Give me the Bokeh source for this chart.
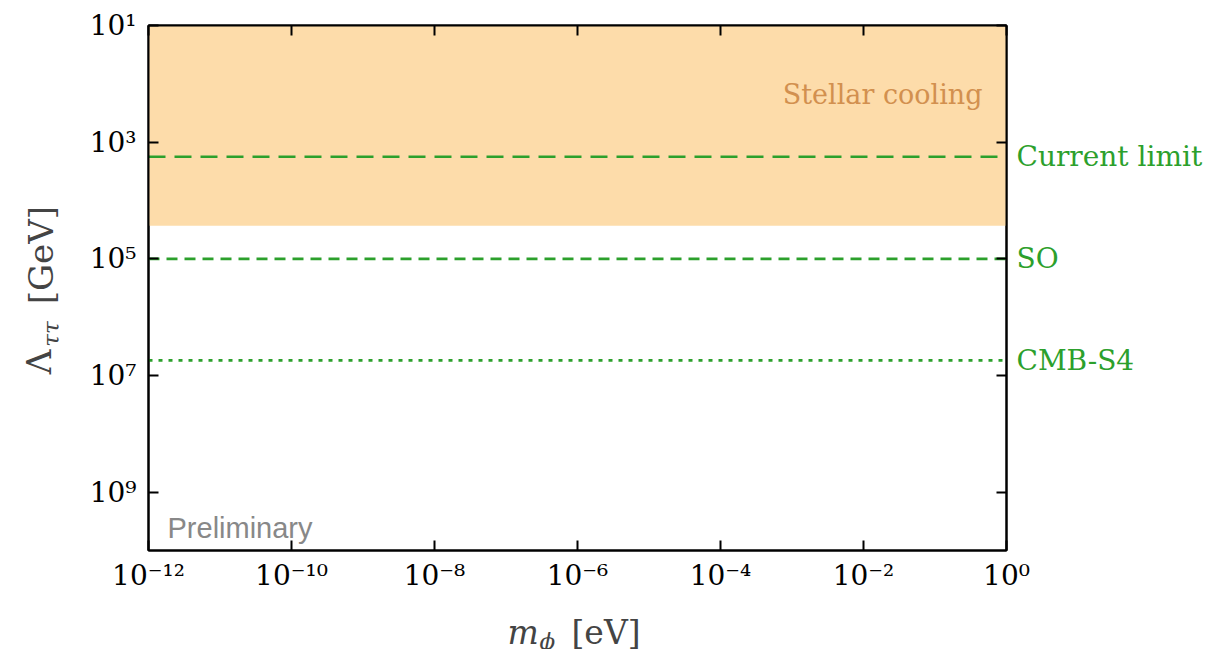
import math
from bokeh.plotting import figure
from bokeh.layouts import row, column
from bokeh.models import (Range1d, FixedTicker, LogAxis, Label, CustomJSTickFormatter)
from bokeh.embed import file_html
from bokeh.resources import INLINE

# ---------------- data ----------------
x_start, x_end = 1e-12, 1e0
y_top, y_bottom = 1e1, 1e10

x_ticks = [1e-12, 1e-10, 1e-8, 1e-6, 1e-4, 1e-2, 1e0]
x_tick_labels = ["10⁻¹²", "10⁻¹⁰", "10⁻⁸", "10⁻⁶", "10⁻⁴", "10⁻²", "10⁰"]
y_ticks = [1e1, 1e3, 1e5, 1e7, 1e9]
y_tick_labels = ["10¹", "10³", "10⁵", "10⁷", "10⁹"]

stellar_lower = 2.7e4          # stellar cooling excludes Lambda below this
stellar_text = "Stellar cooling"
stellar_text_y = 150.0

limit_names = ["Current limit", "SO", "CMB-S4"]
limit_values = [1.78e3, 1.0e5, 5.5e6]
limit_dashes = ["17 9", "11 7", "4 6"]

# ---------------- style ----------------
SERIF = "DejaVu Serif"
GREEN = "#2ca02c"
SHADE = "#fddcaa"
SHADE_TEXT = "#d2904f"

W, H = 1220, 649
LEFT_STRIP = 70      # strip that carries the y title
BOTTOM_STRIP = 50    # strip that carries the x title
MAIN_H = H - BOTTOM_STRIP

p = figure(width=W - LEFT_STRIP, height=MAIN_H,
           x_axis_type="log", y_axis_type="log",
           x_range=Range1d(x_start, x_end),
           y_range=Range1d(y_bottom, y_top),
           output_backend="svg", toolbar_location=None,
           min_border_left=148 - LEFT_STRIP, min_border_right=214,
           min_border_top=25, min_border_bottom=MAIN_H - 550)
p.background_fill_color = "white"
p.border_fill_color = "white"
p.grid.visible = False
p.outline_line_color = "black"
p.outline_line_width = 2

js_code = """
const lt = Math.log10(tick);
for (let i = 0; i < tvals.length; i++) {
  if (Math.abs(Math.log10(tvals[i]) - lt) < 1e-6) return ttext[i];
}
return "";
"""

def style_axis(ax, ticks, labels, tick_len=10):
    ax.ticker = FixedTicker(ticks=ticks)
    ax.formatter = CustomJSTickFormatter(args=dict(tvals=ticks, ttext=labels), code=js_code)
    ax.axis_line_color = "black"
    ax.axis_line_width = 2
    ax.major_tick_in = tick_len
    ax.major_tick_out = 0
    ax.major_tick_line_width = 2
    ax.major_tick_line_color = "black"
    ax.minor_tick_line_color = None
    ax.major_label_text_font = SERIF
    ax.major_label_text_font_size = "28px"
    ax.major_label_text_color = "black"
    ax.axis_label = None

style_axis(p.xaxis[0], x_ticks, x_tick_labels)
style_axis(p.yaxis[0], y_ticks, y_tick_labels)
p.xaxis[0].major_label_standoff = 8
p.yaxis[0].major_label_standoff = 12

top_ax = LogAxis()
style_axis(top_ax, x_ticks, [""] * len(x_ticks))
top_ax.major_label_text_font_size = "0px"
top_ax.major_label_standoff = 0
p.add_layout(top_ax, "above")
right_ax = LogAxis()
style_axis(right_ax, y_ticks, [""] * len(y_ticks))
right_ax.major_label_text_font_size = "0px"
right_ax.major_label_standoff = 0
p.add_layout(right_ax, "right")

# names of the sensitivity lines, written as labels of an extra right axis
name_ax = LogAxis()
style_axis(name_ax, limit_values, limit_names, tick_len=0)
name_ax.axis_line_color = None
name_ax.major_tick_line_color = None
name_ax.major_label_text_color = GREEN
name_ax.major_label_standoff = 10
p.add_layout(name_ax, "right")

# stellar cooling band
p.quad(left=[x_start], right=[x_end], top=[y_top], bottom=[stellar_lower],
       fill_color=SHADE, line_color=None)
p.add_layout(Label(x=x_end, y=stellar_text_y, x_offset=-24, text=stellar_text,
                   text_align="right", text_baseline="middle",
                   text_font=SERIF, text_font_size="27px", text_color=SHADE_TEXT))

# sensitivity lines
for val, dash in zip(limit_values, limit_dashes):
    p.line(x=[x_start, x_end], y=[val, val], line_color=GREEN, line_width=2.6,
           line_dash=dash)

# preliminary tag
p.add_layout(Label(x=x_start, y=y_bottom, x_offset=19, y_offset=23, text="Preliminary",
                   text_align="left", text_baseline="alphabetic",
                   text_font="Liberation Sans", text_font_size="29px", text_color="#888888"))


# ---------------- axis title strips (pixel coordinates of the page) ----------------
def strip(width, height, x0, y0):
    s = figure(width=width, height=height, title=None,
               x_range=Range1d(x0, x0 + width), y_range=Range1d(y0 + height, y0),
               x_axis_location=None, y_axis_location=None,
               output_backend="svg", toolbar_location=None,
               min_border=0, min_border_left=0, min_border_right=0,
               min_border_top=0, min_border_bottom=0)
    s.grid.visible = False
    s.outline_line_color = None
    s.background_fill_color = "white"
    s.border_fill_color = "white"
    return s

def piece(fig, text, x, y, size, italic=False, angle=0.0, align="left", baseline="alphabetic"):
    fig.add_layout(Label(x=x, y=y, text=text, angle=angle,
                         text_font=SERIF, text_font_size=size,
                         text_font_style="italic" if italic else "normal",
                         text_baseline=baseline, text_align=align))

ystrip = strip(LEFT_STRIP, MAIN_H, 0, 0)
piece(ystrip, "Λ", 38, 384, "34px", angle=math.pi / 2, align="center", baseline="middle")
piece(ystrip, "ττ", 50, 352, "23px", italic=True, angle=math.pi / 2, align="center", baseline="middle")
piece(ystrip, "[GeV]", 40, 262, "34px", angle=math.pi / 2, align="center", baseline="middle")

xstrip = strip(W, BOTTOM_STRIP, 0, MAIN_H)
piece(xstrip, "m", 507, 632, "33px", italic=True)
piece(xstrip, "ϕ", 539, 640, "23px", italic=True)
piece(xstrip, "[eV]", 571, 632, "33px")

layout = column(row(ystrip, p, spacing=0), xstrip, spacing=0)

open("out.html", "w").write(file_html(layout, INLINE))
